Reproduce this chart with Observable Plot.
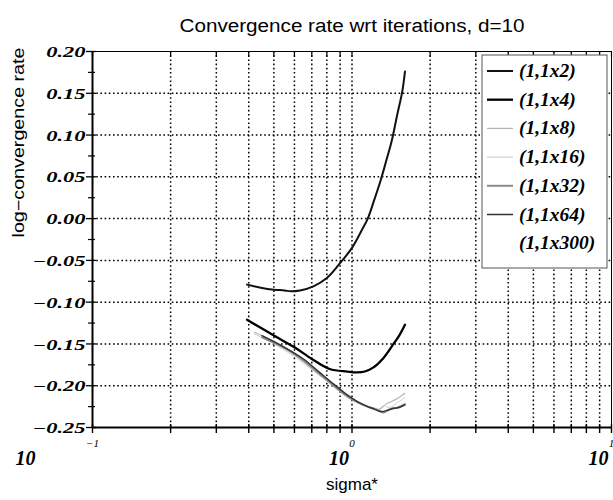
<!DOCTYPE html>
<html><head><meta charset="utf-8">
<script src="https://cdn.jsdelivr.net/npm/d3@7"></script>
<script src="https://cdn.jsdelivr.net/npm/@observablehq/plot@0.6"></script>
<style>body{margin:0;background:#fff}</style>
</head><body><div id="chart"></div>
<script>
// ---- data ----
const seriesNames = ["(1,1x2)", "(1,1x4)", "(1,1x8)", "(1,1x16)", "(1,1x32)", "(1,1x64)", "(1,1x300)"];

const sigma_1x2 = [0.394, 0.45, 0.5, 0.55, 0.58, 0.63, 0.71, 0.8, 0.89, 1.0, 1.09, 1.15, 1.22, 1.29, 1.36, 1.42, 1.5, 1.56, 1.6];
const rate_1x2  = [-0.079, -0.083, -0.085, -0.086, -0.087, -0.086, -0.081, -0.071, -0.055, -0.035, -0.014, 0.0, 0.023, 0.046, 0.071, 0.092, 0.127, 0.151, 0.176];

const sigma_1x4 = [0.394, 0.5, 0.6, 0.7, 0.82, 0.96, 1.045, 1.12, 1.21, 1.32, 1.445, 1.52, 1.6];
const rate_1x4  = [-0.121, -0.140, -0.154, -0.168, -0.180, -0.183, -0.184, -0.183, -0.178, -0.167, -0.150, -0.140, -0.127];

const sigma_1x8 = [0.42, 0.5, 0.6, 0.7, 0.82, 0.95, 1.05, 1.12, 1.2, 1.28, 1.35, 1.42, 1.5, 1.6];
const rate_1x8  = [-0.136, -0.147, -0.162, -0.179, -0.195, -0.211, -0.219, -0.224, -0.226, -0.228, -0.222, -0.219, -0.215, -0.209];

const sigma_1x16 = [0.42, 0.5, 0.6, 0.7, 0.82, 0.95, 1.05, 1.15, 1.25, 1.32, 1.4, 1.5, 1.6];
const rate_1x16  = [-0.138, -0.150, -0.165, -0.181, -0.197, -0.212, -0.220, -0.226, -0.229, -0.224, -0.226, -0.220, -0.214];

const sigma_1x32 = [0.45, 0.55, 0.65, 0.75, 0.85, 0.95, 1.05, 1.15, 1.25, 1.32, 1.4, 1.5, 1.6];
const rate_1x32  = [-0.142, -0.155, -0.170, -0.186, -0.200, -0.212, -0.220, -0.225, -0.229, -0.232, -0.228, -0.226, -0.222];

const sigma_1x64 = [0.45, 0.55, 0.65, 0.75, 0.85, 0.95, 1.05, 1.15, 1.22, 1.3, 1.38, 1.45, 1.52, 1.6];
const rate_1x64  = [-0.140, -0.154, -0.168, -0.184, -0.198, -0.210, -0.219, -0.225, -0.228, -0.231, -0.229, -0.227, -0.226, -0.223];

const sigma_1x300 = [];
const rate_1x300  = [];

const xTicks = [0.2,0.3,0.4,0.5,0.6,0.7,0.8,0.9,1,2,3,4,5,6,7,8,9];
const xAllTicks = [0.1, ...xTicks, 10];
const xLabelTicks = [0.1, 1, 10];
const xExponents = ["\u22121", "0", "1"];
const yMajor = [0.20, 0.15, 0.10, 0.05, 0.00, -0.05, -0.10, -0.15, -0.20, -0.25];
const yMinor = [0.175, 0.125, 0.075, 0.025, -0.025, -0.075, -0.125, -0.175, -0.225];
const yGrid = [0.15, 0.10, 0.05, 0.00, -0.05, -0.10, -0.15, -0.20];

const titleText = "Convergence rate wrt iterations, d=10";
const xTitle = "sigma*";
const yTitle = "log\u2212convergence rate";

// ---- styles ----
const seriesColors = ["#111111", "#000000", "#b4b4b4", "#d0d0d0", "#8c8c8c", "#333333", null];
const seriesWidths = [2.0, 2.3, 1.1, 1.0, 2.0, 1.5, 0];

const sigmas = [sigma_1x2, sigma_1x4, sigma_1x8, sigma_1x16, sigma_1x32, sigma_1x64, sigma_1x300];
const rates  = [rate_1x2, rate_1x4, rate_1x8, rate_1x16, rate_1x32, rate_1x64, rate_1x300];

const rows = [];
seriesNames.forEach((s, i) => sigmas[i].forEach((x, j) => rows.push({series: s, sigma: x, rate: rates[i][j]})));

const fmtY = d => (d < 0 ? "\u2212" : "") + Math.abs(d).toFixed(2);
const serif = "'Liberation Serif', 'Times New Roman', serif";
const serifY = "'Liberation Serif', serif";
const sans = "'Liberation Sans', Arial, sans-serif";

const lineMarks = seriesNames.map((s, i) => seriesColors[i] ? Plot.line(rows.filter(r => r.series === s), {
  x: "sigma", y: "rate", stroke: seriesColors[i], strokeWidth: seriesWidths[i], curve: "catmull-rom"
}) : null).filter(Boolean);

const svg = Plot.plot({
  width: 613, height: 500,
  marginLeft: 92, marginRight: 2, marginTop: 51, marginBottom: 73,
  style: {background: "#fff", overflow: "visible"},
  x: {type: "log", domain: [0.1, 10]},
  y: {domain: [-0.25, 0.20]},
  marks: [
    Plot.gridX(xTicks, {stroke: "#000", strokeOpacity: 1, strokeWidth: 1.5, strokeDasharray: "1.6,2.6"}),
    Plot.gridY(yGrid, {stroke: "#000", strokeOpacity: 1, strokeWidth: 1.5, strokeDasharray: "1.6,2.6"}),
    ...lineMarks,
    Plot.frame({stroke: "#000", strokeWidth: 1}),
    Plot.ruleX([0.1], {stroke: "#000", strokeWidth: 2}),
    Plot.ruleY([-0.25], {stroke: "#000", strokeWidth: 2}),
    // x ticks bottom (crossing) and top
    Plot.axisX({ticks: xAllTicks, tickSize: 9, dy: -3, tickFormat: () => "", label: null, stroke: "#000", strokeWidth: 1.4}),
    Plot.axisX({ticks: xAllTicks, anchor: "top", tickSize: 5, dy: 5, tickFormat: () => "", label: null, stroke: "#000", strokeWidth: 1.2}),
    // y ticks
    Plot.axisY({ticks: yMajor, tickSize: 10, dx: 4, tickFormat: () => "", label: null, stroke: "#000", strokeWidth: 1.3}),
    Plot.axisY({ticks: yMinor, tickSize: 7, dx: 3, tickFormat: () => "", label: null, stroke: "#000", strokeWidth: 1.2}),
    // y tick labels
    Plot.text(yMajor, {y: d => d, frameAnchor: "left", dx: -7, dy: 1, text: fmtY, textAnchor: "end",
      fontSize: 14.5, fontWeight: "bold", fontStyle: "italic", fontFamily: serifY, fill: "#000"}),
    // x labels 10^k
    Plot.text(xLabelTicks.slice(1), {x: d => d, frameAnchor: "bottom", dy: 37, dx: -3, text: () => "10", textAnchor: "end",
      fontSize: 20, fontWeight: "bold", fontStyle: "italic", fontFamily: serif, fill: "#000"}),
    Plot.text(xLabelTicks.slice(0, 1), {x: d => d, frameAnchor: "bottom", dy: 37, dx: -57, text: () => "10", textAnchor: "end",
      fontSize: 20, fontWeight: "bold", fontStyle: "italic", fontFamily: serif, fill: "#000"}),
    Plot.text(xLabelTicks, {x: d => d, frameAnchor: "bottom", dy: 19, text: (d, i) => xExponents[i], textAnchor: "middle",
      fontSize: 11, fontStyle: "italic", fontFamily: serif, fill: "#000"}),
    // titles
    Plot.text([titleText], {frameAnchor: "top", dy: -32, fontSize: 18, fontFamily: sans, fill: "#000"}),
    Plot.text([xTitle], {frameAnchor: "bottom", dy: 62, fontSize: 17, fontFamily: sans, fill: "#000"}),
    Plot.text([yTitle], {frameAnchor: "left", dx: -74, dy: -2, rotate: -90, fontSize: 16, fontFamily: sans, fill: "#000"})
  ]
});

document.getElementById("chart").appendChild(svg);

// stretch the y tick labels horizontally like the reference
d3.select(svg).selectAll("g").filter(function() { return this.getAttribute("font-family") === serifY; })
  .selectAll("text").each(function() {
    const w = this.getComputedTextLength();
    d3.select(this).attr("textLength", w * 1.55).attr("lengthAdjust", "spacingAndGlyphs");
  });
// widen the title and y title to the reference's extent
d3.select(svg).selectAll("text").each(function() {
  if (this.textContent === titleText) d3.select(this).attr("textLength", 345).attr("lengthAdjust", "spacingAndGlyphs");
  if (this.textContent === yTitle) d3.select(this).attr("textLength", 190).attr("lengthAdjust", "spacingAndGlyphs");
});

// legend
const lg = d3.select(svg).append("g").attr("text-anchor", "start");
lg.append("rect").attr("x", 482).attr("y", 55).attr("width", 125).attr("height", 213)
  .attr("fill", "#fff").attr("stroke", "#555").attr("stroke-width", 1);
seriesNames.forEach((s, i) => {
  const yy = 71 + i * 28.7;
  if (seriesColors[i]) {
    lg.append("line").attr("x1", 487).attr("x2", 513).attr("y1", yy).attr("y2", yy)
      .attr("stroke", seriesColors[i]).attr("stroke-width", Math.max(1.2, seriesWidths[i]));
  }
  lg.append("text").attr("x", 519).attr("y", yy + 6).attr("text-anchor", "start").text(s)
    .attr("font-family", serif).attr("font-size", 19.5).attr("font-weight", "bold").attr("font-style", "italic").attr("fill", "#000");
});
</script></body></html>
